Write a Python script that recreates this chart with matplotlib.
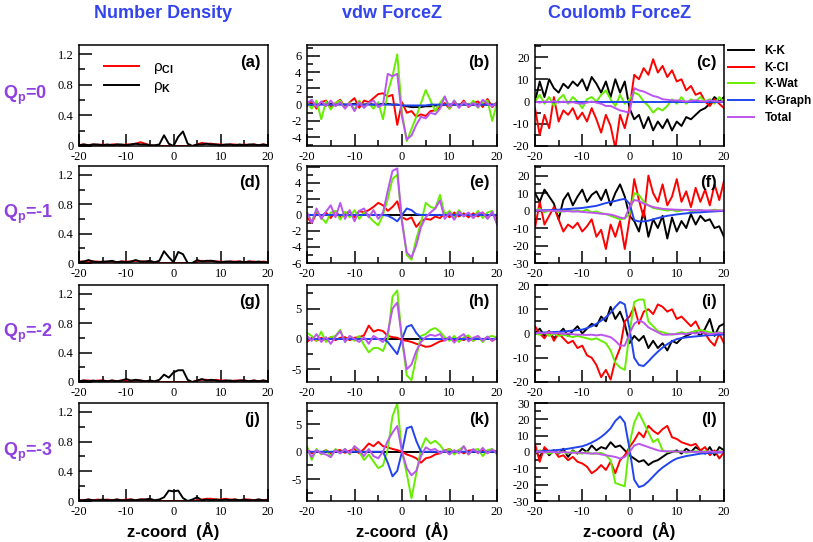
import matplotlib
matplotlib.use("Agg")
import matplotlib.pyplot as plt
from matplotlib.ticker import MultipleLocator
from matplotlib.lines import Line2D

# z grid (Angstrom)
z = list(range(-20, 21))

# ---- number density ----
rho_cl_a = [0.01, 0.02, 0.01, 0.02, 0.01, 0.02, 0.01, 0.02, 0.02, 0.01, 0.02, 0.02, 0.03, 0.05, 0.03, 0.01, 0.0, 0.0, 0.0, 0.0,
            0.0, 0.0, 0.0, 0.0, 0.0, 0.02, 0.04, 0.03, 0.03, 0.02, 0.02, 0.01, 0.02, 0.02, 0.01, 0.02, 0.01, 0.02, 0.01, 0.02, 0.01]
rho_k_a = [0.01, 0.02, 0.01, 0.02, 0.02, 0.01, 0.02, 0.01, 0.02, 0.02, 0.01, 0.02, 0.03, 0.02, 0.02, 0.01, 0.01, 0.02, 0.14, 0.03,
           0.0, 0.12, 0.19, 0.03, 0.0, 0.02, 0.02, 0.03, 0.02, 0.02, 0.01, 0.02, 0.02, 0.01, 0.02, 0.01, 0.02, 0.02, 0.01, 0.02, 0.01]
rho_cl_d = [0.02, 0.02, 0.01, 0.02, 0.02, 0.01, 0.02, 0.02, 0.01, 0.02, 0.02, 0.02, 0.03, 0.02, 0.02, 0.01, 0.0, 0.0, 0.0, 0.0,
            0.0, 0.0, 0.0, 0.0, 0.0, 0.02, 0.03, 0.02, 0.03, 0.02, 0.02, 0.01, 0.02, 0.02, 0.02, 0.01, 0.02, 0.02, 0.01, 0.02, 0.01]
rho_k_d = [0.01, 0.02, 0.04, 0.02, 0.01, 0.02, 0.02, 0.03, 0.01, 0.02, 0.01, 0.02, 0.04, 0.02, 0.02, 0.03, 0.01, 0.03, 0.16, 0.08,
           0.01, 0.15, 0.12, 0.0, 0.0, 0.04, 0.02, 0.03, 0.03, 0.02, 0.01, 0.02, 0.02, 0.01, 0.02, 0.01, 0.02, 0.01, 0.02, 0.01, 0.01]
rho_cl_g = [0.01, 0.02, 0.02, 0.01, 0.02, 0.02, 0.01, 0.02, 0.01, 0.02, 0.02, 0.01, 0.02, 0.02, 0.01, 0.01, 0.0, 0.0, 0.0, 0.0,
            0.0, 0.0, 0.0, 0.0, 0.0, 0.02, 0.03, 0.03, 0.02, 0.03, 0.02, 0.02, 0.01, 0.02, 0.02, 0.02, 0.01, 0.02, 0.01, 0.02, 0.01]
rho_k_g = [0.01, 0.02, 0.01, 0.02, 0.01, 0.02, 0.01, 0.02, 0.01, 0.02, 0.04, 0.02, 0.03, 0.02, 0.01, 0.02, 0.01, 0.03, 0.10, 0.06,
           0.13, 0.16, 0.16, 0.03, 0.0, 0.02, 0.04, 0.02, 0.03, 0.02, 0.01, 0.02, 0.02, 0.01, 0.02, 0.02, 0.01, 0.02, 0.01, 0.02, 0.01]
rho_cl_j = [0.01, 0.01, 0.02, 0.01, 0.02, 0.01, 0.02, 0.01, 0.02, 0.01, 0.02, 0.02, 0.01, 0.02, 0.02, 0.01, 0.0, 0.0, 0.0, 0.0,
            0.0, 0.0, 0.0, 0.0, 0.0, 0.01, 0.02, 0.03, 0.03, 0.02, 0.02, 0.03, 0.02, 0.02, 0.01, 0.02, 0.02, 0.01, 0.02, 0.01, 0.02]
rho_k_j = [0.01, 0.01, 0.02, 0.01, 0.01, 0.02, 0.01, 0.01, 0.02, 0.01, 0.01, 0.02, 0.01, 0.02, 0.02, 0.03, 0.01, 0.02, 0.05, 0.14,
           0.13, 0.14, 0.04, 0.0, 0.02, 0.05, 0.01, 0.02, 0.01, 0.02, 0.01, 0.02, 0.01, 0.02, 0.01, 0.02, 0.01, 0.01, 0.02, 0.01, 0.01]

# ---- vdw force z ----
kk_vdw_b = [0.1, 0.1, 0.0, 0.1, 0.0, 0.1, 0.0, 0.1, 0.0, 0.0, 0.1, 0.0, 0.0, 0.1, 0.0, 0.0, 0.1, 0.1, 0.0, 0.0,
            -0.1, -0.2, -0.3, -0.3, -0.3, -0.2, -0.2, -0.1, -0.1, 0.0, 0.0, 0.0, 0.0, 0.0, 0.0, 0.0, 0.0, 0.0, 0.0, 0.0, 0.0]
kk_vdw = [0.0, 0.0, 0.0, 0.0, 0.0, 0.0, 0.0, 0.0, 0.0, 0.0, 0.0, 0.0, 0.0, 0.0, 0.0, 0.0, 0.0, 0.0, 0.0, 0.0,
          0.0, 0.0, 0.0, 0.0, 0.0, 0.0, 0.0, 0.0, 0.0, 0.0, 0.0, 0.0, 0.0, 0.0, 0.0, 0.0, 0.0, 0.0, 0.0, 0.0, 0.0]
cl_vdw_b = [-0.2, 0.5, -0.5, 0.3, 0.5, -0.3, 0.2, 0.6, -0.3, 0.3, 0.8, -0.4, 0.5, 0.3, 0.8, 1.3, 1.4, 1.0, 1.2, -2.5,
            0.3, -1.0, -0.8, -1.5, -1.2, -1.4, -0.8, -0.7, -0.3, 0.2, -0.5, 0.3, -0.2, 0.5, -0.3, 0.2, 0.4, -0.3, 0.7, -0.3, 0.3]
wat_vdw_b = [0.3, -0.5, 0.5, -1.8, 0.4, -0.6, 0.2, 0.5, -0.4, 0.3, -0.6, 0.5, -0.3, 0.2, -0.5, 0.3, -1.8, 1.5, 3.5, 6.2,
             -1.0, -4.5, -3.0, -1.5, 0.2, 1.8, 0.5, -0.8, 0.2, 1.0, -0.5, 0.5, -0.3, 0.3, -0.2, 0.5, -0.4, 0.3, 0.5, -2.0, 0.2]
graph_vdw_b = [0.0, 0.0, 0.0, 0.0, 0.0, 0.0, 0.0, 0.0, 0.0, 0.0, 0.0, 0.0, 0.0, 0.0, 0.0, 0.0, 0.0, 0.0, 0.0, 0.0,
               -0.1, -0.1, -0.1, -0.1, -0.1, -0.1, 0.0, 0.0, 0.0, 0.0, 0.0, 0.0, 0.0, 0.0, 0.0, 0.0, 0.0, 0.0, 0.0, 0.0, 0.0]
tot_vdw_b = [0.2, 0.6, -0.3, 0.4, -0.2, 0.5, -0.2, 0.3, -0.5, 0.2, -0.8, 0.3, -0.4, 0.2, 0.5, -0.3, 0.0, 3.8, 3.5, 3.8,
             -1.5, -4.3, -3.8, -2.5, -1.5, -1.7, -1.0, -1.2, -0.5, 1.0, -0.3, 0.5, -0.4, 0.3, -0.2, 0.2, -0.3, 0.6, 0.1, -0.2, 0.2]

cl_vdw_e = [-0.3, -1.0, 0.2, -0.2, 0.3, -0.4, 0.5, -0.3, 0.2, 0.4, -0.3, 0.5, 0.3, 0.6, 1.0, 1.5, 1.2, 0.5, 1.0, 1.7,
            -0.3, -0.6, -0.3, -1.5, -0.8, -0.5, -0.6, -0.2, -0.4, 0.2, -0.3, 0.3, -0.2, 0.2, -0.3, 0.2, -0.2, 0.3, -0.4, 0.2, -0.5]
wat_vdw_e = [0.3, -0.8, 0.5, -0.3, -1.0, 0.3, 0.5, -0.6, 0.4, -0.3, 0.6, -0.5, 0.3, -0.2, -0.8, -1.3, 0.0, 2.0, 4.5, 5.0,
             -0.5, -5.0, -5.6, -3.0, -1.0, 1.5, 1.0, 0.8, 2.5, 0.0, 0.5, -0.3, 0.6, -0.2, 0.2, -0.3, 0.5, -0.4, 0.3, 0.5, -1.0]
graph_vdw_e = [0.0, 0.0, 0.0, 0.0, 0.0, 0.0, 0.0, 0.0, 0.0, 0.0, 0.0, 0.0, 0.0, 0.0, 0.0, 0.0, 0.0, -0.1, -0.4, -0.8,
               0.0, 0.8, 0.6, 0.1, 0.0, 0.0, 0.0, 0.0, 0.0, 0.0, 0.0, 0.0, 0.0, 0.0, 0.0, 0.0, 0.0, 0.0, 0.0, 0.0, 0.0]
tot_vdw_e = [0.3, -1.0, 0.8, -0.5, 0.4, 1.2, -0.3, 1.5, -0.5, 0.6, -0.8, 0.5, 0.8, -0.3, 0.6, -0.5, 0.3, 3.0, 5.5, 5.8,
             -1.0, -4.7, -5.3, -3.8, -1.5, -0.3, 0.3, 0.8, 1.8, -0.5, 0.3, -0.6, 0.4, -0.2, 0.3, -0.4, 0.2, 0.3, -0.5, 0.4, -1.2]

cl_vdw_h = [-0.5, 0.2, -0.3, 0.2, -0.2, 0.3, -0.2, 0.2, 0.3, -0.2, 0.2, 0.3, 0.6, 2.2, 1.2, 1.5, 1.3, 0.5, 0.3, 0.2,
            -0.2, -0.3, -0.5, -0.8, -1.0, -1.3, -1.2, -0.8, -0.4, -0.2, 0.2, -0.3, 0.2, -0.2, 0.3, -0.3, 0.2, -0.2, 0.3, -0.3, 0.2]
wat_vdw_h = [1.0, 0.5, -0.3, 1.2, -0.5, 0.3, 0.5, 1.5, -0.5, 0.3, -0.3, 0.5, -1.0, -2.2, -1.5, -1.5, -2.0, 0.0, 7.0, 8.0,
             0.0, -6.0, -6.8, -3.0, 0.5, 0.8, 1.5, 1.8, 1.2, 0.3, -0.3, 0.5, -0.5, 0.3, 0.6, -0.3, 0.4, -0.5, 0.3, 0.5, 0.2]
graph_vdw_h = [0.0, 0.0, 0.0, 0.0, 0.0, 0.0, 0.0, 0.0, 0.0, 0.0, 0.0, 0.0, 0.0, 0.0, 0.0, 0.0, 0.0, -0.5, -1.5, -2.5,
               0.0, 2.0, 2.3, 1.0, 0.1, 0.0, 0.0, 0.0, 0.0, 0.0, 0.0, 0.0, 0.0, 0.0, 0.0, 0.0, 0.0, 0.0, 0.0, 0.0, 0.0]
tot_vdw_h = [0.5, -0.3, 0.8, -0.5, 0.3, -0.8, 0.4, 1.3, -0.5, 0.5, 0.0, -0.5, 0.3, -0.8, 0.5, 0.0, -0.5, 1.0, 5.0, 6.0,
             0.0, -5.0, -4.2, -2.0, -0.5, 0.3, 0.7, 0.5, 0.8, -0.3, 0.4, -0.6, 0.3, 0.8, -0.4, 0.2, 0.5, -0.3, 0.4, -0.3, 0.3]

cl_vdw_k = [0.5, -0.3, 0.2, -0.2, 0.3, -0.3, 0.2, 0.3, -0.2, 0.2, 0.5, -0.3, 0.5, 1.5, 1.0, 1.8, 1.0, 0.8, 0.5, 0.3,
            0.0, -0.5, -0.8, -1.2, -2.0, -1.2, -1.0, -0.5, -0.3, 0.2, 0.5, -0.2, 0.3, -0.3, 0.2, 0.3, -0.2, 0.3, -0.2, 0.3, 0.0]
wat_vdw_k = [1.0, -1.5, 0.5, -0.5, 0.3, -0.8, 0.5, -0.3, 0.5, -0.5, 1.0, 0.0, -1.5, -0.5, -1.8, -3.0, -2.5, 0.5, 6.5, 8.8,
             0.0, -4.0, -8.5, -4.0, 0.5, 2.5, 1.5, 2.0, 1.2, 0.0, 0.5, -0.5, 0.3, 1.0, -0.5, 0.3, 0.5, -0.8, 0.3, 0.5, -0.5]
graph_vdw_k = [0.0, 0.0, 0.0, 0.0, 0.0, 0.0, 0.0, 0.0, 0.0, 0.0, 0.0, 0.0, 0.0, 0.0, 0.0, 0.0, 0.0, -2.0, -4.5, -3.5,
               0.0, 4.3, 4.6, 2.0, 0.0, 0.0, 0.0, 0.0, 0.0, 0.0, 0.0, 0.0, 0.0, 0.0, 0.0, 0.0, 0.0, 0.0, 0.0, 0.0, 0.0]
tot_vdw_k = [0.5, -1.0, 0.3, -0.3, -0.5, -1.0, 0.3, -0.3, 0.5, -0.3, 1.0, 0.3, -0.8, 0.5, -0.8, -1.2, 0.0, 2.0, 3.5, 4.7,
             0.0, -3.0, -4.3, -3.5, -0.8, 0.8, 0.3, 0.5, -0.3, 0.3, -0.5, 0.3, -0.3, 1.0, -0.5, 0.5, -0.3, 0.7, -0.3, 0.4, -0.3]

# ---- Coulomb force z ----
kk_coul_c = [0, 9, 2, 10, 6, 4, 8, 6, 9, 7, 10, 5, 11, 8, 4, 9, 2, 10, 4, 9,
             -3, -8, -6, -12, -7, -13, -9, -12, -8, -13, -9, -11, -7, -8, -6, -4, -3, -1, 2, 0, 2]
cl_coul_c = [-3, -15, -6, -12, 2, -9, -4, -6, -3, -8, -5, -9, -3, -8, -14, -6, -11, -21, -6, -12,
             -3, 12, 10, 15, 12, 19, 13, 16, 11, 14, 9, 10, 5, 7, 3, 4, 0, -2, 1, -1, -3]
wat_coul_c = [0, 3, -1, 2, -2, 1, 3, -1, 2, 0, -3, 1, 2, 0, 3, 5, 1, -2, 3, -1,
              1, 4, 3, 0, -2, -5, -3, -4, -2, 1, -1, 2, -1, 1, 0, 2, 0, 1, -1, 2, 0]
graph_coul_c = [0, 0, 0, 0, 0, 0, 0, 0, 0, 0, 0, 0, 0, 0, 0, 0, 0, 0, 0, 0,
                0, 0, 0, 0, 0, 0, 0, 0, 0, 0, 0, 0, 0, 0, 0, 0, 0, 0, 0, 0, 0]
tot_coul_c = [0.0, -0.5, 0.0, -0.3, 0.2, -0.5, 0.0, -0.5, -0.3, -0.8, -1.0, -0.5, 0.0, -0.5, -1.0, -2.0, -2.0, -3.0, -4.0, -4.5,
              -5.0, 6.0, 5.0, 4.5, 3.5, 2.5, 2.0, 1.0, 0.8, 0.5, 0.5, 0.3, 0.0, 0.3, 0.5, 0.2, 0.0, 0.5, 0.2, 0.0, 0.0]

kk_coul_f = [10, 5, 12, 8, 4, -5, 6, 10, 3, 8, 12, 5, 9, 11, 6, 12, 3, 10, 15, 8,
             -3, -6, -12, 0, -15, -5, -10, -3, -16, -4, -12, -6, -10, -2, -8, -3, -6, -5, -10, -9, -15]
cl_coul_f = [-10, 5, -8, -3, 2, -5, -12, -8, -10, -7, -12, -9, -5, -15, -11, -22, -8, -15, -6, -22,
             -5, 18, 6, -4, 20, 10, 5, 15, 3, 8, 18, 5, 11, 2, 13, 5, 12, 3, 15, 6, 17]
wat_coul_f = [0, 1, -1, 0, 0.5, -1, 0, 0.5, -0.5, 0, -0.5, 0.5, -1, -0.5, -1.5, -2, -3, -4, -5, -4.5,
              -2, 10, 9, 5, 3, 1.5, 1, 0.5, 0, 0.5, -0.5, 0, 0.5, -0.3, 0, 0.3, -0.5, 0, 0.5, 0, 0]
graph_coul_f = [0.0, 0.1, 0.2, 0.3, 0.4, 0.5, 0.7, 0.9, 1.1, 1.3, 1.5, 1.9, 2.3, 2.7, 3.5, 4.3, 4.9, 5.5, 6.2, 6.7,
                4.0, -5.5, -6.2, -6.2, -5.8, -5.0, -4.3, -3.6, -3.0, -2.6, -2.2, -1.9, -1.6, -1.3, -1.1, -1.0, -0.8, -0.6, -0.5, -0.3, -0.2]
tot_coul_f = [0.0, 0.3, -0.2, 0.2, -0.3, 0.0, -0.5, -0.3, -0.6, -0.5, -0.8, -1.0, -1.2, -1.5, -1.8, -2.0, -2.3, -3.0, -4.0, -4.5,
              2.0, 6.0, 5.5, 4.0, 3.0, 2.0, 1.5, 1.0, 0.8, 0.6, 0.5, 0.4, 0.3, 0.3, 0.2, 0.2, 0.1, 0.1, 0.0, 0.1, 0.0]

kk_coul_i = [0, 2, -1, 1, -2, 0, 2, -1, 1, 3, 0, 2, 4, 3, 7, 5, 11, 6, 9, 4,
             -4, -1, -3, -1, -6, -3, -6, -4, -7, -3, -4, -2, -1, 0, 1, -1, 2, 6, -1, 3, 4]
cl_coul_i = [3, 0, -2, 1, -3, 0, -2, -4, -3, -6, -5, -9, -10, -13, -18, -15, -19, -11, -6, 5,
             7, 11, 4, 9, 10, 8, 12, 11, 9, 10, 6, 7, 5, 3, 5, 1, 0, -3, -5, 0, -4]
wat_coul_i = [0, -0.5, 0.5, -1, 0, -1, -0.5, -1, -1.5, -1, -1.5, -2, -2.5, -2, -3, -4, -7, -12, -14, -15,
              0, 13, 14, 14, 5, 3, 1, 0.5, 0, -0.5, 0, 0.5, 0, 0.5, 1, 1.5, 1, 0.5, 0, 0.5, 0]
graph_coul_i = [0.2, 0.3, 0.4, 0.5, 0.6, 0.7, 0.8, 1.0, 1.2, 1.4, 1.6, 2.2, 3.0, 4.0, 5.3, 6.7, 8.5, 11.0, 13.0, 12.0,
                2.0, -10.0, -13.0, -13.4, -11.5, -9.4, -7.5, -5.8, -4.4, -3.2, -2.3, -1.9, -1.6, -1.4, -1.2, -1.0, -0.8, -0.7, -0.6, -0.5, -0.4]
tot_coul_i = [0.0, 0.3, 0.0, 0.5, 0.0, 0.3, -0.2, 0.0, -0.3, -0.5, -0.5, -0.6, -0.5, -0.8, -0.5, -1.0, -1.5, -3.0, -5.0, -5.0,
              0.0, 4.0, 5.5, 4.5, 2.5, 1.5, 0.5, -0.5, -0.5, -0.3, -0.3, 0.0, -0.3, 0.3, 0.0, 0.5, 0.3, -0.3, 0.0, 0.3, 0.0]

kk_coul_l = [1, -3, 2, -2, 1, -1, 2, -3, 1, -1, 2, 0, 4, 1, 3, 2, 6, 3, 4, 1,
             -2, -4, -6, -5, -8, -6, -5, -3, -1, 0, 1, -1, 2, 0, 3, 1, -1, 3, -2, 3, 1]
cl_coul_l = [5, -6, 3, 0, 1, -3, -2, -5, -3, -6, -7, -9, -13, -11, -8, -11, -6, -13, -5, -2,
             3, 7, 12, 9, 16, 13, 11, 14, 16, 9, 8, 6, 5, 4, 5, 1, 3, -2, 1, -4, 0]
wat_coul_l = [0, 1, 0, -1, 0, -0.5, 0, -1, 0.5, -0.5, -1, 0, -1, -1, -0.5, -2, -5, -19, -20, -21,
              5, 18, 24, 18, 12, 6, 8, 1, 0, 0.5, 0, 0.5, -0.5, 0, 0.5, 0, 0.5, 0, -0.5, 0.5, 0]
graph_coul_l = [0.3, 0.4, 0.6, 0.8, 1.0, 1.3, 1.6, 2.0, 2.5, 3.0, 3.5, 4.5, 5.8, 7.3, 9.2, 11.6, 14.5, 19.0, 21.8, 18.0,
                2.0, -17.0, -21.5, -20.5, -18.0, -15.0, -12.0, -9.5, -7.5, -5.5, -4.0, -3.2, -2.5, -2.0, -1.5, -1.0, -0.8, -0.6, -0.4, -0.3, -0.2]
tot_coul_l = [0.0, 0.3, -0.3, 0.2, 0.0, -0.3, 0.0, -0.3, -0.5, -0.3, -0.5, -0.8, -1.0, -0.8, -1.5, -2.0, -2.5, -3.0, -4.0, -3.0,
              0.0, 4.0, 5.0, 4.0, 3.0, 2.0, 1.0, 0.5, 0.5, 0.3, 0.3, 0.2, 0.0, 0.2, 0.0, 0.2, 0.0, 0.3, 0.0, 0.2, 0.0]

series_names = ["K-K", "K-Cl", "K-Wat", "K-Graph", "Total"]
series_colors = ["black", "#ff0000", "#66ee00", "#2244ee", "#bb55ee"]
row_labels = ["0", "-1", "-2", "-3"]
col_titles = ["Number Density", "vdw ForceZ", "Coulomb ForceZ"]

plt.rcParams["font.family"] = "Liberation Serif"
plt.rcParams["axes.unicode_minus"] = False
plt.rcParams["mathtext.fontset"] = "custom"
plt.rcParams["mathtext.rm"] = "Liberation Sans"
plt.rcParams["mathtext.it"] = "Liberation Sans"
plt.rcParams["mathtext.bf"] = "Liberation Sans:bold"

W, H = 813, 542
fig = plt.figure(figsize=(W / 100, H / 100), dpi=100)

col_px = [(79, 189), (307, 190), (535, 189)]
row_px = [(45, 146), (166, 263), (285, 382), (403, 501)]


def make_axes(r, c):
    l, w = col_px[c]
    t, b = row_px[r]
    return fig.add_axes([l / W, 1 - b / H, w / W, (b - t) / H])


def style_axes(ax, ylim, major, minor, label):
    ax.set_xlim(-20, 20)
    ax.set_ylim(*ylim)
    ax.xaxis.set_major_locator(MultipleLocator(10))
    ax.xaxis.set_minor_locator(MultipleLocator(5))
    ax.yaxis.set_major_locator(MultipleLocator(major))
    ax.yaxis.set_minor_locator(MultipleLocator(minor))
    ax.tick_params(which="both", direction="in", top=False, right=False, width=1.1, labelsize=9)
    ax.tick_params(axis="x", pad=3.5)
    ax.tick_params(axis="y", pad=4)
    ax.tick_params(which="major", length=9)
    ax.tick_params(which="minor", length=4)
    for s in ax.spines.values():
        s.set_linewidth(1.1)
    ax.text(0.96, 0.83, "(%s)" % label, transform=ax.transAxes, ha="right", va="center",
            fontsize=12, fontweight="bold", family="Liberation Sans")


def fmt_density(v, pos):
    return "0" if v == 0 else "%.1f" % v


density = [(rho_cl_a, rho_k_a), (rho_cl_d, rho_k_d), (rho_cl_g, rho_k_g), (rho_cl_j, rho_k_j)]
vdw = [
    (kk_vdw_b, cl_vdw_b, wat_vdw_b, graph_vdw_b, tot_vdw_b),
    (kk_vdw, cl_vdw_e, wat_vdw_e, graph_vdw_e, tot_vdw_e),
    (kk_vdw, cl_vdw_h, wat_vdw_h, graph_vdw_h, tot_vdw_h),
    (kk_vdw, cl_vdw_k, wat_vdw_k, graph_vdw_k, tot_vdw_k),
]
coul = [
    (kk_coul_c, cl_coul_c, wat_coul_c, graph_coul_c, tot_coul_c),
    (kk_coul_f, cl_coul_f, wat_coul_f, graph_coul_f, tot_coul_f),
    (kk_coul_i, cl_coul_i, wat_coul_i, graph_coul_i, tot_coul_i),
    (kk_coul_l, cl_coul_l, wat_coul_l, graph_coul_l, tot_coul_l),
]
vdw_ylims = [(-5.1, 7.35), (-6, 6.1), (-7.1, 8.9), (-9, 8.9)]
vdw_ticks = [(2, 1), (2, 1), (5, 2.5), (5, 2.5)]
coul_ylims = [(-20, 25.4), (-30, 25.5), (-20, 20), (-30, 30)]
letters = ["abc", "def", "ghi", "jkl"]

lw = 1.4
for r in range(4):
    # number density
    ax = make_axes(r, 0)
    rho_cl, rho_k = density[r]
    ax.plot(z, rho_cl, color="#ff0000", lw=lw, label=r"$\rho_{\mathbf{Cl}}$")
    ax.plot(z, rho_k, color="black", lw=lw, label=r"$\rho_{\mathbf{K}}$")
    style_axes(ax, (0, 1.32), 0.4, 0.2, letters[r][0])
    ax.yaxis.set_major_formatter(plt.FuncFormatter(fmt_density))
    if r == 0:
        ax.legend(loc="upper left", bbox_to_anchor=(0.06, 0.98), frameon=False, fontsize=11,
                  handlelength=2.3, labelspacing=0.2, handletextpad=0.9)

    # vdw
    ax = make_axes(r, 1)
    for vals, col in zip(vdw[r], series_colors):
        ax.plot(z, vals, color=col, lw=lw)
    style_axes(ax, vdw_ylims[r], vdw_ticks[r][0], vdw_ticks[r][1], letters[r][1])

    # coulomb
    ax = make_axes(r, 2)
    for vals, col in zip(coul[r], series_colors):
        ax.plot(z, vals, color=col, lw=lw)
    style_axes(ax, coul_ylims[r], 10, 5, letters[r][2])

    if r == 3:
        for c in range(3):
            l, w = col_px[c]
            fig.text((l + w / 2) / W, 1 - 531 / H, "z-coord  (\u00c5)", ha="center", va="center",
                     fontsize=12, fontweight="bold", family="Liberation Sans")

    t, b = row_px[r]
    fig.text(3 / W, 1 - ((t + b) / 2) / H, r"Q$_{\mathbf{p}}$=" + row_labels[r], ha="left", va="center",
             fontsize=13, fontweight="bold", color="#9040e0", family="Liberation Sans")

for c in range(3):
    l, w = col_px[c]
    fig.text((l + w / 2 - 10) / W, 1 - 13 / H, col_titles[c], ha="center", va="center",
             fontsize=13, fontweight="bold", color="#3344ee", family="Liberation Sans")

handles = [Line2D([], [], color=col, lw=lw) for col in series_colors]
fig.legend(handles, series_names, loc="upper left", bbox_to_anchor=(728 / W, 1 - 45 / H), frameon=False,
           prop={"family": "Liberation Sans", "weight": "bold", "size": 8.5},
           handlelength=2.2, labelspacing=0.4, handletextpad=0.9, borderpad=0, borderaxespad=0)

fig.savefig("out.png", dpi=100)
